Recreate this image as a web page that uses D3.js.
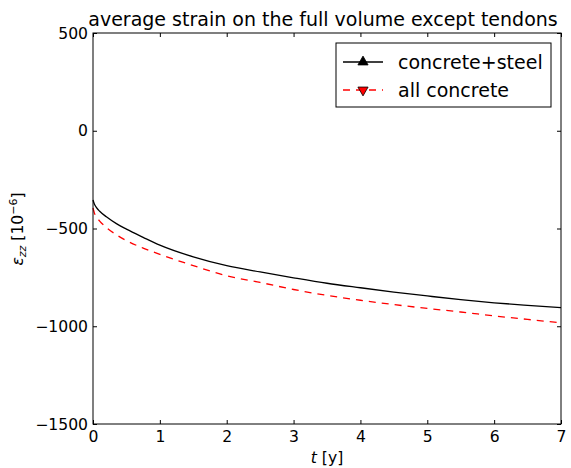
<!DOCTYPE html>
<html>
<head>
<meta charset="utf-8">
<script src="https://cdn.jsdelivr.net/npm/d3@7"></script>
<style>
  body { margin: 0; background: #fff; }
  text { font-family: "DejaVu Sans", sans-serif; fill: #000; }
</style>
</head>
<body>
<div id="chart"></div>
<script>
// values
const tYears = [0, 0.02, 0.05, 0.1, 0.2, 0.35, 0.5, 0.75, 1, 1.5, 2, 2.5, 3, 3.5, 4, 4.5, 5, 5.5, 6, 6.5, 7];
const concreteSteel = [-354, -375, -392, -412, -440, -475, -503, -545, -585, -645, -690, -722, -752, -780, -803, -825, -845, -864, -880, -893, -905];
const allConcrete = [-395, -420, -440, -462, -495, -532, -562, -600, -632, -690, -742, -776, -812, -842, -867, -889, -909, -927, -947, -965, -982];
const xTicks = [0, 1, 2, 3, 4, 5, 6, 7];
const yTicks = [500, 0, -500, -1000, -1500];
const seriesNames = ["concrete+steel", "all concrete"];

(() => {
  const width = 571, height = 468;
  const margin = { top: 33, right: 10, bottom: 44, left: 93 };
  const innerWidth = 561 - margin.left;
  const innerHeight = 424 - margin.top;

  const svg = d3.select("#chart").append("svg")
    .attr("width", width)
    .attr("height", height);

  const g = svg.append("g")
    .attr("transform", `translate(${margin.left},${margin.top})`);

  const x = d3.scaleLinear().domain([0, 7]).range([0, innerWidth]);
  const y = d3.scaleLinear().domain([-1500, 500]).range([innerHeight, 0]);

  // ------------------
  // Axes (ticks inside, all four sides)
  // ------------------
  const tickFont = "15.6px";

  const bottom = g.append("g")
    .attr("transform", `translate(0,${innerHeight})`)
    .call(d3.axisBottom(x).tickValues(xTicks).tickFormat(d3.format("d"))
      .tickSizeInner(-4).tickSizeOuter(0).tickPadding(7));
  bottom.selectAll("text").style("font-size", tickFont);

  const left = g.append("g")
    .call(d3.axisLeft(y).tickValues(yTicks).tickFormat(d3.format("d"))
      .tickSizeInner(-4).tickSizeOuter(0).tickPadding(5));
  left.selectAll("text").style("font-size", tickFont);

  g.append("g")
    .call(d3.axisTop(x).tickValues(xTicks).tickFormat("").tickSizeInner(-4).tickSizeOuter(0));
  g.append("g")
    .attr("transform", `translate(${innerWidth},0)`)
    .call(d3.axisRight(y).tickValues(yTicks).tickFormat("").tickSizeInner(-4).tickSizeOuter(0));

  g.selectAll(".domain").remove();
  g.selectAll(".tick line").attr("stroke", "#000").attr("stroke-width", 1);

  // ------------------
  // Lines
  // ------------------
  const line = vals => d3.line()
    .curve(d3.curveMonotoneX)
    .x((d, i) => x(tYears[i]))
    .y(d => y(d))(vals);

  g.append("path")
    .attr("d", line(concreteSteel))
    .attr("fill", "none")
    .attr("stroke", "#000")
    .attr("stroke-width", 1.3);

  g.append("path")
    .attr("d", line(allConcrete))
    .attr("fill", "none")
    .attr("stroke", "#ff0000")
    .attr("stroke-width", 1.3)
    .attr("stroke-dasharray", "7,6");

  // frame
  g.append("rect")
    .attr("width", innerWidth)
    .attr("height", innerHeight)
    .attr("fill", "none")
    .attr("stroke", "#000")
    .attr("stroke-width", 1);

  // ------------------
  // Title and labels
  // ------------------
  svg.append("text")
    .attr("x", 323)
    .attr("y", 26)
    .attr("text-anchor", "middle")
    .style("font-size", "19px")
    .text("average strain on the full volume except tendons");

  const xl = svg.append("text")
    .attr("x", 327)
    .attr("y", 463)
    .attr("text-anchor", "middle")
    .style("font-size", "15.6px");
  xl.append("tspan").style("font-style", "italic").text("t");
  xl.append("tspan").text(" [y]");

  const yl = svg.append("text")
    .attr("transform", "translate(23,229) rotate(-90)")
    .attr("text-anchor", "middle")
    .style("font-size", "15.6px");
  yl.append("tspan").style("font-style", "italic").text("ε");
  yl.append("tspan").style("font-style", "italic").style("font-size", "11px")
    .attr("dy", 3).text("zz");
  yl.append("tspan").attr("dy", -3).text(" [10");
  yl.append("tspan").style("font-size", "11px").attr("dy", -6).text("−6");
  yl.append("tspan").attr("dy", 6).text("]");

  // ------------------
  // Legend
  // ------------------
  const legend = svg.append("g").attr("transform", "translate(336,43)");
  legend.append("rect")
    .attr("width", 215)
    .attr("height", 64)
    .attr("fill", "#fff")
    .attr("stroke", "#000")
    .attr("stroke-width", 1);

  const tri = d3.symbol().type(d3.symbolTriangle).size(45);
  const rows = [
    { name: seriesNames[0], color: "#000", dash: null, rot: 0 },
    { name: seriesNames[1], color: "#ff0000", dash: "7,6", rot: 180 }
  ];
  rows.forEach((r, i) => {
    const cy = 19 + i * 28;
    const row = legend.append("g").attr("transform", `translate(0,${cy})`);
    row.append("line")
      .attr("x1", 7).attr("x2", 47)
      .attr("stroke", r.color)
      .attr("stroke-width", 1.3)
      .attr("stroke-dasharray", r.dash);
    row.append("path")
      .attr("d", tri())
      .attr("transform", `translate(27,0) rotate(${r.rot})`)
      .attr("fill", r.color)
      .attr("stroke", "#000")
      .attr("stroke-width", 0.8);
    row.append("text")
      .attr("x", 62)
      .attr("y", 0)
      .attr("dy", "0.35em")
      .style("font-size", "19px")
      .text(r.name);
  });
})();
</script>
</body>
</html>
